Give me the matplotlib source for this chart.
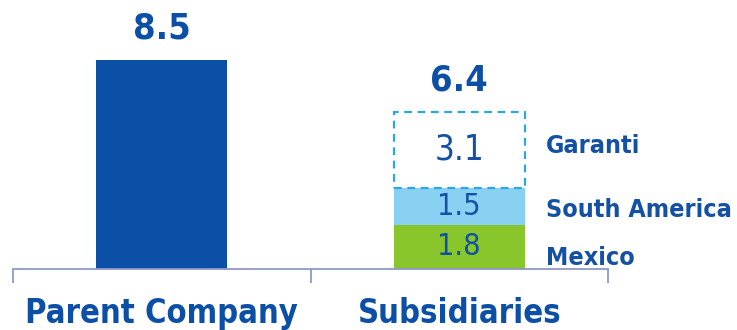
import matplotlib.pyplot as plt

# capital generation, by entity
categories = ['Parent Company', 'Subsidiaries']
parent_value = 8.5
sub_names = ['Mexico', 'South America', 'Garanti']
sub_values = [1.8, 1.5, 3.1]
sub_total = 6.4

navy = '#0b4fa6'
text_blue = '#1450a3'
sub_colors = ['#89c62b', '#89d1f3', 'white']
seg_fontsize = [22, 22, 25]

plt.rcParams['font.family'] = ['DejaVu Sans']
plt.rcParams['font.stretch'] = 'condensed'

fig = plt.figure(figsize=(7.37, 3.30), dpi=100)
ax = fig.add_axes([13 / 737, 61 / 330, 595 / 737, 266 / 330])
ax.set_xlim(0, 2)
ax.set_ylim(0, 266 / 24.6)

bw = 0.44
ax.bar(0.5, parent_value, width=bw, color=navy, zorder=2)

bottom = 0
for name, val, col, fs in zip(sub_names, sub_values, sub_colors, seg_fontsize):
    if name == 'Garanti':
        ax.bar(1.5, val, width=bw, bottom=bottom, color='white',
               edgecolor='#2ba7e1', linewidth=1.6, linestyle=(0, (3.5, 2.5)), zorder=2)
    else:
        ax.bar(1.5, val, width=bw, bottom=bottom, color=col, zorder=2)
    ax.text(1.5, bottom + val / 2, '{:.1f}'.format(val), ha='center', va='center',
            fontsize=fs, color=text_blue)
    bottom += val

# totals above the bars
for x, v in [(0.5, parent_value), (1.5, sub_total)]:
    ax.annotate('{:.1f}'.format(v), (x, v), xytext=(0, 22.5), textcoords='offset points',
                ha='center', va='center', fontsize=26, fontweight='bold', color=navy)

# segment labels on the right
label_y = [0.45, 2.4, 5.0]
for name, y in zip(sub_names, label_y):
    ax.text(1.79, y, name, ha='left', va='center', fontsize=18,
            fontweight='bold', color=text_blue)

for s in ['top', 'right', 'left']:
    ax.spines[s].set_visible(False)
ax.spines['bottom'].set_color('#8c98c8')
ax.spines['bottom'].set_linewidth(1.3)
ax.set_yticks([])
ax.set_xticks([0, 1, 2])
ax.set_xticklabels([])
ax.tick_params(axis='x', length=10, width=1.3, color='#8c98c8', direction='out')
ax.set_xticks([0.5, 1.5], minor=True)
ax.set_xticklabels(categories, minor=True, fontsize=23.5, fontweight='bold', color=navy)
ax.tick_params(axis='x', which='minor', length=0, pad=20)

fig.savefig('out.png', dpi=100)
